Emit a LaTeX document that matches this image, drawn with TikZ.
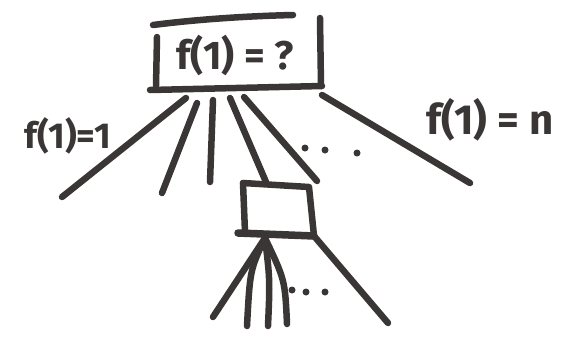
\documentclass[tikz,border=0pt]{standalone}
\usepackage{fontspec}
\setmainfont{Fira Sans}
\usetikzlibrary{calc}
\definecolor{marker}{RGB}{58,54,54}

\begin{document}
\begin{tikzpicture}[x=1pt,y=-1pt,line cap=round,line join=round,
	stroke/.style={draw=marker,line width=6.5pt},
	label/.style={text=marker,inner sep=0pt}]
		\useasboundingbox (0,0) rectangle (584,341);
		
		% upper box
		\node[label,font=\bfseries\fontsize{40}{44}\selectfont] (guess) at (235,55) {f(1) = ?};
		\draw[stroke](153,25)..controls(200,19)and(250,16)..(293,15);
		\draw[stroke](157,37)--(156,86);
		\draw[stroke](320,18)--(321,86);
		\draw[stroke](150,90)--(322,86);
		
		% lower box
		\coordinate (SA)at(243,183);
		\coordinate (SB)at(309,187);
		\coordinate (SC)at(314,236);
		\draw[stroke](SA)--(SB)--(SC);
		\draw[stroke](SA)--(245,232);
		\draw[stroke,line width=7.5pt](238,233)--(SC);
		
		% outer branches
		\coordinate (L0)at(186,98);
		\coordinate (L1)at(62,197);
		\coordinate (R0)at(322,95);
		\coordinate (R1)at(470,183);
		\draw[stroke](L0)--(L1);
		\draw[stroke](R0)--(R1);
		\node[label,font=\bfseries\fontsize{36}{40}\selectfont] (first) at (68,136) {f(1)=1};
		\node[label,font=\bfseries\fontsize{42}{46}\selectfont] (last) at (490,120) {f(1) = n};
		
		% inner branches
		\draw[stroke](197,103)--(162,193);
		\draw[stroke](213,100)--(210,182);
		\draw[stroke](230,98)--(266,182);
		\draw[stroke](244,97)--(317,181);
		\fill[marker](305,148)circle(3.5)(325,150)circle(3.5)(357,153)circle(3.5);
		
		% branches below the lower box
		\coordinate (B0)at(265,238);
		\draw[stroke](B0)--(213,317);
		\draw[stroke](B0)..controls(250,270)..(247,326);
		\draw[stroke](B0)..controls(270,280)..(268,326);
		\draw[stroke](B0)..controls(285,280)..(287,324);
		\draw[stroke](SC)--(388,323);
		\fill[marker](292,290)circle(3.5)(306,292)circle(3.5)(325,292)circle(3.5);
\end{tikzpicture}
\end{document}
